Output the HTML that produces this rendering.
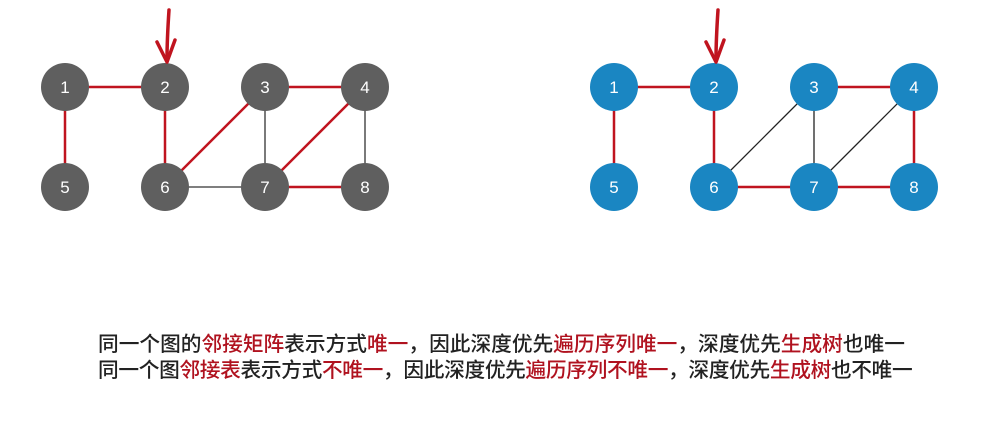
<!DOCTYPE html>
<html><head><meta charset="utf-8"><style>
body{margin:0;background:#fff;width:996px;height:428px;overflow:hidden;position:relative}
.t{position:absolute;left:98px;font-family:"Noto Sans CJK SC",sans-serif;font-size:20.7px;font-weight:500;color:#222;white-space:nowrap;line-height:24px}
.r{color:#b0121f}
</style></head><body>
<svg width="996" height="428" style="position:absolute;left:0;top:0">
<g stroke-width="2.5">
<line x1="65" y1="87" x2="165" y2="87" stroke="#c0141f"/>
<line x1="65" y1="87" x2="65" y2="187" stroke="#c0141f"/>
<line x1="165" y1="87" x2="165" y2="187" stroke="#c0141f"/>
<line x1="165" y1="187" x2="265" y2="87" stroke="#c0141f"/>
<line x1="265" y1="87" x2="365" y2="87" stroke="#c0141f"/>
<line x1="365" y1="87" x2="265" y2="187" stroke="#c0141f"/>
<line x1="265" y1="187" x2="365" y2="187" stroke="#c0141f"/>
<line x1="265" y1="87" x2="265" y2="187" stroke="#333" stroke-width="1.3"/>
<line x1="365" y1="87" x2="365" y2="187" stroke="#333" stroke-width="1.3"/>
<line x1="165" y1="187" x2="265" y2="187" stroke="#333" stroke-width="1.3"/>
<line x1="614" y1="87" x2="714" y2="87" stroke="#c0141f"/>
<line x1="614" y1="87" x2="614" y2="187" stroke="#c0141f"/>
<line x1="714" y1="87" x2="714" y2="187" stroke="#c0141f"/>
<line x1="714" y1="187" x2="914" y2="187" stroke="#c0141f"/>
<line x1="814" y1="87" x2="914" y2="87" stroke="#c0141f"/>
<line x1="914" y1="87" x2="914" y2="187" stroke="#c0141f"/>
<line x1="814" y1="87" x2="814" y2="187" stroke="#222" stroke-width="1.3"/>
<line x1="714" y1="187" x2="814" y2="87" stroke="#222" stroke-width="1.3"/>
<line x1="814" y1="187" x2="914" y2="87" stroke="#222" stroke-width="1.3"/>
</g>
<g fill="#5f5f5f">
<circle cx="65" cy="87" r="24"/><circle cx="165" cy="87" r="24"/><circle cx="265" cy="87" r="24"/><circle cx="365" cy="87" r="24"/>
<circle cx="65" cy="187" r="24"/><circle cx="165" cy="187" r="24"/><circle cx="265" cy="187" r="24"/><circle cx="365" cy="187" r="24"/>
</g>
<g fill="#1a86c2">
<circle cx="614" cy="87" r="24"/><circle cx="714" cy="87" r="24"/><circle cx="814" cy="87" r="24"/><circle cx="914" cy="87" r="24"/>
<circle cx="614" cy="187" r="24"/><circle cx="714" cy="187" r="24"/><circle cx="814" cy="187" r="24"/><circle cx="914" cy="187" r="24"/>
</g>
<g fill="#fff" font-family="Liberation Sans,sans-serif" font-size="17" text-anchor="middle">
<text x="65" y="93">1</text><text x="165" y="93">2</text><text x="265" y="93">3</text><text x="365" y="93">4</text>
<text x="65" y="193">5</text><text x="165" y="193">6</text><text x="265" y="193">7</text><text x="365" y="193">8</text>
<text x="614" y="93">1</text><text x="714" y="93">2</text><text x="814" y="93">3</text><text x="914" y="93">4</text>
<text x="614" y="193">5</text><text x="714" y="193">6</text><text x="814" y="193">7</text><text x="914" y="193">8</text>
</g>
<g stroke="#c0141f" stroke-width="3.5" fill="none" stroke-linecap="round" stroke-linejoin="round">
<path d="M169 10 C168 25 167 40 167 60"/><path d="M157 42 L167 62 L175 40"/>
<path d="M718 10 C717 25 716 40 716 60"/><path d="M706 42 L716 62 L724 40"/>
</g>
</svg>
<div class="t" style="top:330px">同一个图的<span class="r">邻接矩阵</span>表示方式<span class="r">唯一</span>，因此深度优先<span class="r">遍历序列唯一</span>，深度优先<span class="r">生成树</span>也唯一</div>
<div class="t" style="top:356px;letter-spacing:-0.33px">同一个图<span class="r">邻接表</span>表示方式<span class="r">不唯一</span>，因此深度优先<span class="r">遍历序列不唯一</span>，深度优先<span class="r">生成树</span>也不唯一</div>
</body></html>
